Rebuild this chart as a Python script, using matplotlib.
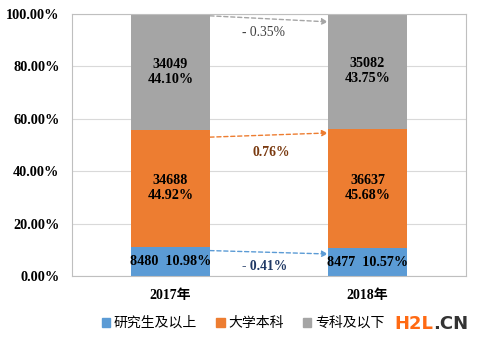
import numpy as np
import matplotlib
matplotlib.use('Agg')
import matplotlib.pyplot as plt
from matplotlib.patches import Patch

# data
years = ['2017年', '2018年']
series = ['研究生及以上', '大学本科', '专科及以下']
counts = {'研究生及以上': [8480, 8477], '大学本科': [34688, 36637], '专科及以下': [34049, 35082]}
shares = {'研究生及以上': [10.98, 10.57], '大学本科': [44.92, 45.68], '专科及以下': [44.10, 43.75]}
changes = ['- 0.41%', '0.76%', '- 0.35%']
# arrow start/end heights (percent)
arrow_from = [9.7, 53.0, 99.3]
arrow_to = [8.4, 54.6, 97.0]
label_y = [3.6, 47.3, 93.1]
label_x = [0.48, 0.51, 0.47]

colors = ['#5b9bd5', '#ed7d31', '#a5a5a5']
change_colors = ['#1f3864', '#7a3a10', '#404040']

plt.rcParams['font.family'] = ['Liberation Serif', 'Noto Sans CJK SC']

fig = plt.figure(figsize=(4.8, 3.43), dpi=100)
ax = fig.add_axes([72/480, 1-276/343, 394/480, 262/343])

x = np.arange(len(years))
bottom = np.zeros(len(years))
for i, s in enumerate(series):
    vals = np.array(shares[s])
    ax.bar(x, vals, 0.4, bottom=bottom, color=colors[i], zorder=2)
    for j in range(len(years)):
        if i == 0:
            txt = f'{counts[s][j]}  {vals[j]:.2f}%'
        else:
            txt = f'{counts[s][j]}\n{vals[j]:.2f}%'
        ax.text(x[j], bottom[j] + vals[j] / 2, txt, ha='center', va='center',
                fontsize=10.2, fontweight='bold', color='black', linespacing=1.2, zorder=3)
    bottom += vals

# change arrows between the bars
for i in range(len(series)):
    ax.annotate('', xy=(0.8, arrow_to[i]), xytext=(0.2, arrow_from[i]),
                arrowprops=dict(arrowstyle='-|>', color=colors[i], ls=(0, (3, 2)),
                                lw=1, mutation_scale=9, shrinkA=0, shrinkB=0), zorder=3)
    ax.text(label_x[i], label_y[i], changes[i], ha='center', va='center', fontsize=9.8,
            color=change_colors[i], fontweight='bold' if i != 2 else 'normal')

ax.set_xlim(-0.5, 1.5)
ax.set_ylim(0, 100)
ax.set_yticks(np.arange(0, 101, 20))
ax.set_yticklabels([f'{v:.2f}%' for v in np.arange(0, 101, 20)], fontsize=10.3, fontweight='bold')
ax.set_xticks(x)
ax.set_xticklabels(years, fontsize=10, fontweight='bold')
ax.tick_params(length=0, pad=9)
ax.grid(axis='y', color='#d9d9d9', lw=0.8, zorder=0)
for sp in ax.spines.values():
    sp.set_color('#bfbfbf')

handles = [Patch(color=c) for c in colors]
fig.legend(handles, series, loc='center', bbox_to_anchor=(243/480, 1-323/343), ncol=3,
           frameon=False, handlelength=0.6, handleheight=0.6, handletextpad=0.25,
           columnspacing=1.4, prop={'family': 'Noto Sans CJK SC', 'size': 10})

# watermark
wm = fig.text(394/480, 1-324/343, 'H2L', color='#ff6a13', fontsize=13, fontweight='bold',
              family='DejaVu Sans', va='center', ha='left')
fig.canvas.draw()
bb = wm.get_window_extent()
fig.text(bb.x1 / fig.bbox.width, 1-324/343, '.CN', color='#333333', fontsize=13,
         fontweight='bold', family='DejaVu Sans', va='center', ha='left')

fig.savefig('out.png', dpi=100)
